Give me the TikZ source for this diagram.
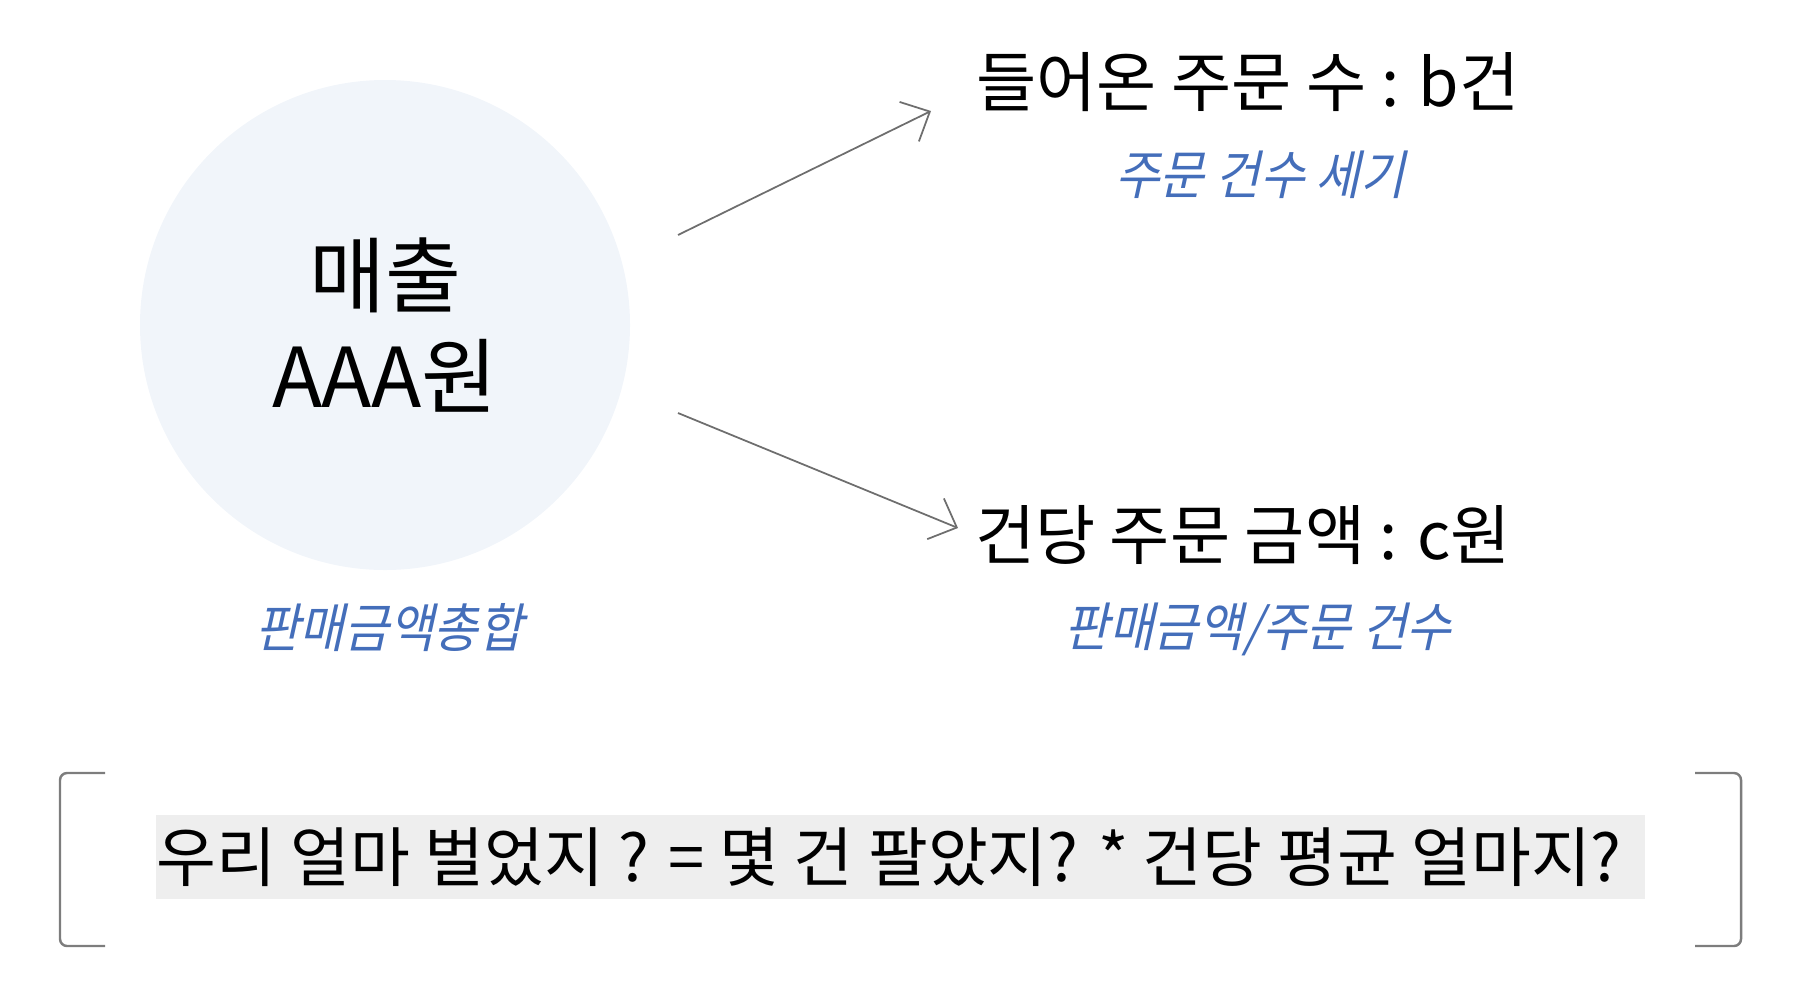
\documentclass[tikz,border=0pt]{standalone}
\usepackage{fontspec}
\setmainfont{Noto Sans CJK KR}
\newfontfamily\krslant[FakeSlant=0.22,FakeStretch=0.92]{Noto Sans CJK KR}
\usepackage{tikz}
\usetikzlibrary{arrows.meta}
\usepackage{xcolor}
\definecolor{circlefill}{RGB}{241,245,250}
\definecolor{notegrey}{RGB}{238,238,238}
\definecolor{hintblue}{RGB}{68,110,186}
\definecolor{linegrey}{RGB}{110,110,110}
\definecolor{bracketgrey}{RGB}{125,125,125}

\begin{document}
\begin{tikzpicture}[
    mainlbl/.style={font=\fontsize{18.6}{23}\selectfont, inner sep=0pt},
    hintlbl/.style={font=\krslant\fontsize{15}{18}\selectfont, text=hintblue, inner sep=0pt},
    arr/.style={linegrey, line width=0.5pt, -{Straight Barb[length=2.3mm,width=4.4mm]}}
  ]
        \useasboundingbox (0,0) rectangle (17.96,10.06);

        % Total sales (circle)
        \node[circle, fill=circlefill, minimum size=4.9cm, align=center,
              font=\fontsize{23.5}{28.5}\selectfont] (sales) at (3.85,6.81) {매출\\AAA원};
        \node[hintlbl] (salesHint) at (3.89,3.78) {판매금액총합};

        % Order count
        \node[mainlbl] (orders) at (12.48,9.24) {들어온 주문 수 : b건};
        \node[hintlbl] (ordersHint) at (12.60,8.31) {주문 건수 세기};

        % Amount per order
        \node[mainlbl] (perOrder) at (12.43,4.71) {건당 주문 금액 : c원};
        \node[hintlbl] (perOrderHint) at (12.58,3.77) {판매금액/주문 건수};

        % Arrows
        \coordinate (up0) at (6.78,7.71);
        \coordinate (up1) at (9.31,8.95);
        \coordinate (dn0) at (6.78,5.93);
        \coordinate (dn1) at (9.58,4.78);
        \draw[arr] (up0) -- (up1);
        \draw[arr] (dn0) -- (dn1);

        % Summary line
        \draw[bracketgrey, line width=0.7pt, rounded corners=2pt]
          (1.05,2.33) -- (0.60,2.33) -- (0.60,0.60) -- (1.05,0.60);
        \draw[bracketgrey, line width=0.7pt, rounded corners=2pt]
          (16.95,2.33) -- (17.41,2.33) -- (17.41,0.60) -- (16.95,0.60);
        \node[fill=notegrey, minimum width=14.89cm, minimum height=0.84cm, inner sep=0pt]
          (summaryBox) at (9.0,1.49) {};
        \node[mainlbl, font=\fontsize{18.5}{22}\selectfont]
          (summary) at (8.89,1.49) {우리 얼마 벌었지 ? = 몇 건 팔았지? * 건당 평균 얼마지?};
      \end{tikzpicture}
\end{document}
